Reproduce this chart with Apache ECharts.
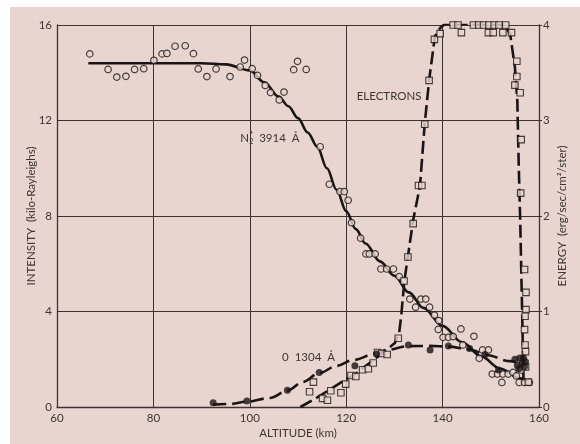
<!DOCTYPE html>
<html><head><meta charset="utf-8">
<script src="https://cdn.jsdelivr.net/npm/echarts@6/dist/echarts.min.js"></script>
<style>html,body{margin:0;padding:0;background:#fff}#c{width:580px;height:444px}</style>
</head><body><div id="c"></div><script>
// ---- data ----
const altitudeTicks = [60, 80, 100, 120, 140, 160];
const intensityTicks = [0, 4, 8, 12, 16];
const energyTicks = [0, 1, 2, 3, 4];

// N2+ 3914 A measured points (altitude km, intensity kR)
const n2Points = [[66.8,14.79],[70.6,14.14],[72.4,13.82],[74.3,13.85],[76.1,14.14],[78.0,14.17],[80.1,14.52],[81.8,14.79],[82.8,14.81],[84.5,15.11],[86.6,15.13],[88.3,14.80],[89.3,14.16],[91.1,13.84],[93.0,14.16],[95.9,13.84],[98.0,14.24],[98.9,14.53],[100.5,14.17],[101.6,13.89],[103.2,13.47],[104.3,13.17],[106.1,12.86],[107.1,13.19],[109.1,14.13],[109.9,14.48],[111.7,14.14],[114.6,10.90],[116.5,9.33],[118.7,9.02],[119.6,9.02],[120.4,8.66],[121.1,7.72],[123.0,7.07],[124.1,6.41],[124.8,6.41],[126.0,6.41],[127.2,5.78],[128.4,5.78],[129.8,5.78],[131.0,5.46],[133.2,4.52],[134.4,4.18],[135.5,4.52],[136.5,4.52],[137.3,4.18],[138.3,3.85],[139.2,3.62],[139.1,3.25],[140.1,2.92],[141.2,2.92],[142.2,2.95],[143.8,3.27],[144.2,2.60],[146.5,2.96],[147.6,2.04],[148.3,2.39],[149.5,2.39],[150.3,1.38],[151.4,1.38],[152.5,1.38],[153.6,1.38],[152.3,1.03],[154.6,1.45],[155.3,1.30],[155.9,1.03],[156.3,1.55],[157.0,1.03],[158.0,1.03]];
// N2+ fitted curve
const n2Curve = [[66.5,14.4],[80,14.4],[90,14.4],[95,14.35],[100,14.1],[103,13.6],[106,13.0],[108,12.6],[110,12.1],[112,11.5],[114,10.9],[116,10.0],[118,9.1],[120,8.2],[122,7.45],[124,6.85],[127,6.1],[130,5.5],[133,4.8],[136,4.15],[140,3.4],[144,2.72],[148,2.12],[152,1.6],[156,1.2],[158.3,1.0]];

// Electron energy measured points (altitude km, energy erg/sec/cm2/ster)
const electronPoints = [[112.4,0.16],[113.2,0.26],[115.1,0.09],[116.1,0.07],[116.8,0.17],[118.9,0.15],[119.9,0.24],[121.0,0.33],[122.0,0.32],[123.4,0.39],[124.6,0.40],[125.6,0.46],[126.5,0.57],[127.4,0.56],[128.5,0.55],[130.8,0.72],[132.0,1.32],[132.8,1.57],[133.9,1.92],[135.0,2.32],[135.7,2.32],[136.3,2.96],[137.2,3.42],[138.3,3.85],[139.5,3.91],[140.1,4.02],[142.2,4.0],[143.2,4.0],[143.9,3.92],[146.4,4.0],[147.5,4.0],[148.5,4.0],[149.6,4.0],[150.7,4.0],[151.7,4.0],[153.1,4.0],[149.5,3.92],[150.5,3.92],[152.5,3.92],[154.3,3.92],[155.4,3.62],[155.4,3.46],[155.0,3.37],[156.1,3.29],[156.3,2.80],[156.2,2.24],[157.0,1.44],[157.3,1.20],[157.3,1.02],[157.1,0.95],[157.0,0.81],[157.1,0.65],[157.2,0.58],[157.2,0.42],[157.8,0.26]];
// Electron curve
const electronCurve = [[110.5,0.0],[114,0.1],[118.7,0.25],[122,0.35],[125.6,0.49],[128.4,0.6],[130.1,0.67],[131.0,0.78],[131.4,0.95],[132.1,1.33],[133.9,1.96],[135.3,2.31],[136.3,2.97],[137.2,3.42],[138.4,3.88],[139.5,3.97],[140.5,4.01],[152.6,4.01],[154.0,3.91],[155.0,3.56],[155.5,3.21],[155.8,2.52],[156.1,1.96],[156.5,1.0],[156.8,0.25]];

// O 1304 A measured points and curve (altitude km, intensity kR)
const oPoints = [[92.4,0.18],[99.4,0.25],[107.8,0.70],[114.4,1.45],[121.8,1.73],[126.3,2.22],[132.9,2.60],[137.4,2.39],[141.2,2.55],[145.6,2.45],[148.8,2.20],[151.6,1.55],[155.0,2.00],[155.5,1.75],[156.0,2.05],[156.5,1.85],[157.0,1.70],[155.8,1.60],[156.8,2.05],[157.2,1.90]];
const oCurve = [[92.4,0.1],[96,0.13],[99.4,0.22],[104.2,0.38],[107.8,0.68],[111,1.05],[114.4,1.42],[118,1.72],[121.5,1.97],[126.3,2.25],[128.4,2.39],[132.9,2.55],[137.4,2.56],[141.2,2.53],[145.6,2.41],[149.1,2.18],[154.0,1.92],[157.0,1.75]];

// annotation anchors (data coordinates)
const labelElectrons = {text: 'ELECTRONS', at: [128.9, 13.03]};
const labelN2 = {text: '3914  Å', at: [98.0, 11.27]};
const labelO = {text: '0  1304  Å', at: [106.7, 2.09]};

// ---- chart ----
const FONT = 'Lato, "DejaVu Sans", sans-serif';
const INK = '#1a1414';
const GRID = '#3e3332';
const TXT = '#3d3535';
const PAPER = '#e8d5d0';
const chart = echarts.init(document.getElementById('c'), null, {renderer: 'canvas'});

chart.setOption({
  animation: false,
  backgroundColor: '#ffffff',
  grid: {left: 57, right: 41, top: 25, bottom: 37, containLabel: false, show: false},
  xAxis: {
    type: 'value', min: altitudeTicks[0], max: altitudeTicks[altitudeTicks.length-1], interval: 20,
    name: 'ALTITUDE (km)', nameLocation: 'middle', nameGap: 20, nameMoveOverlap: false,
    nameTextStyle: {fontFamily: FONT, fontSize: 11.5, color: TXT},
    axisLine: {show: true, lineStyle: {color: GRID, width: 1.3}},
    axisTick: {show: false},
    axisLabel: {fontFamily: FONT, fontSize: 11.5, color: TXT, margin: 5},
    splitLine: {show: true, lineStyle: {color: GRID, width: 1}}
  },
  yAxis: [{
    type: 'value', min: intensityTicks[0], max: intensityTicks[intensityTicks.length-1], interval: 4, position: 'left',
    name: 'INTENSITY  (kilo-Rayleighs)', nameLocation: 'middle', nameGap: 20, nameRotate: 90, nameMoveOverlap: false,
    nameTextStyle: {fontFamily: FONT, fontSize: 11.5, color: TXT},
    axisLine: {show: true, lineStyle: {color: GRID, width: 1.3}},
    axisTick: {show: false},
    axisLabel: {fontFamily: FONT, fontSize: 11.5, color: TXT, margin: 5},
    splitLine: {show: true, lineStyle: {color: GRID, width: 1}}
  }, {
    type: 'value', min: energyTicks[0], max: energyTicks[energyTicks.length-1], interval: 1, position: 'right',
    name: 'ENERGY  (erg/sec/cm²/ster)', nameLocation: 'middle', nameGap: 17, nameRotate: 90, nameMoveOverlap: false,
    nameTextStyle: {fontFamily: FONT, fontSize: 11.5, color: TXT},
    axisLine: {show: true, lineStyle: {color: GRID, width: 1.3}},
    axisTick: {show: true, length: 3, lineStyle: {color: GRID}},
    axisLabel: {fontFamily: FONT, fontSize: 11.5, color: TXT, margin: 4},
    splitLine: {show: false}
  }],
  series: [
    {type: 'line', name: 'N2 curve', data: n2Curve, yAxisIndex: 0, smooth: 0.35, smoothMonotone: 'x',
     showSymbol: false, lineStyle: {color: INK, width: 2.6}, z: 3},
    {type: 'scatter', name: 'N2 points', data: n2Points, yAxisIndex: 0, symbol: 'circle', symbolSize: 6.5,
     itemStyle: {color: PAPER, borderColor: INK, borderWidth: 1.2}, z: 4},
    {type: 'line', name: 'Electron curve', data: electronCurve, yAxisIndex: 1, smooth: false,
     showSymbol: false, lineStyle: {color: INK, width: 2.6, type: [13, 5]}, z: 3},
    {type: 'scatter', name: 'Electron points', data: electronPoints, yAxisIndex: 1, symbol: 'rect', symbolSize: 6.5,
     itemStyle: {color: PAPER, borderColor: INK, borderWidth: 1.1}, z: 4},
    {type: 'line', name: 'O curve', data: oCurve, yAxisIndex: 0, smooth: 0.35, smoothMonotone: 'x',
     showSymbol: false, lineStyle: {color: INK, width: 2.6, type: [13, 6]}, z: 3},
    {type: 'scatter', name: 'O points', data: oPoints, yAxisIndex: 0, symbol: 'circle', symbolSize: 7,
     itemStyle: {color: INK}, z: 5}
  ]
});

function px(pt){ return chart.convertToPixel({xAxisIndex: 0, yAxisIndex: 0}, pt); }
const pE = px(labelElectrons.at), pN = px(labelN2.at), pO = px(labelO.at);
const ts = (t, x, y, size, align) => ({type: 'text', x: x, y: y, silent: true,
  style: {text: t, fontFamily: FONT, fontSize: size, fill: TXT, align: align || 'left', verticalAlign: 'middle'}});
chart.setOption({
  graphic: {
    elements: [
      {type: 'rect', silent: true, z: -50, zlevel: 0,
       shape: {x: 10, y: 7, width: 570, height: 437}, style: {fill: PAPER}},
      ts(labelElectrons.text, pE[0], pE[1], 11.5, 'center'),
      {type: 'group', x: pN[0], y: pN[1], children: [
        ts('N', 0, 0, 11.5),
        ts('+', 9, -5, 7),
        ts('2', 9, 4, 7),
        ts(labelN2.text, 19, 0, 11.5)
      ]},
      ts(labelO.text, pO[0], pO[1], 11.5)
    ]
  }
});
</script></body></html>
